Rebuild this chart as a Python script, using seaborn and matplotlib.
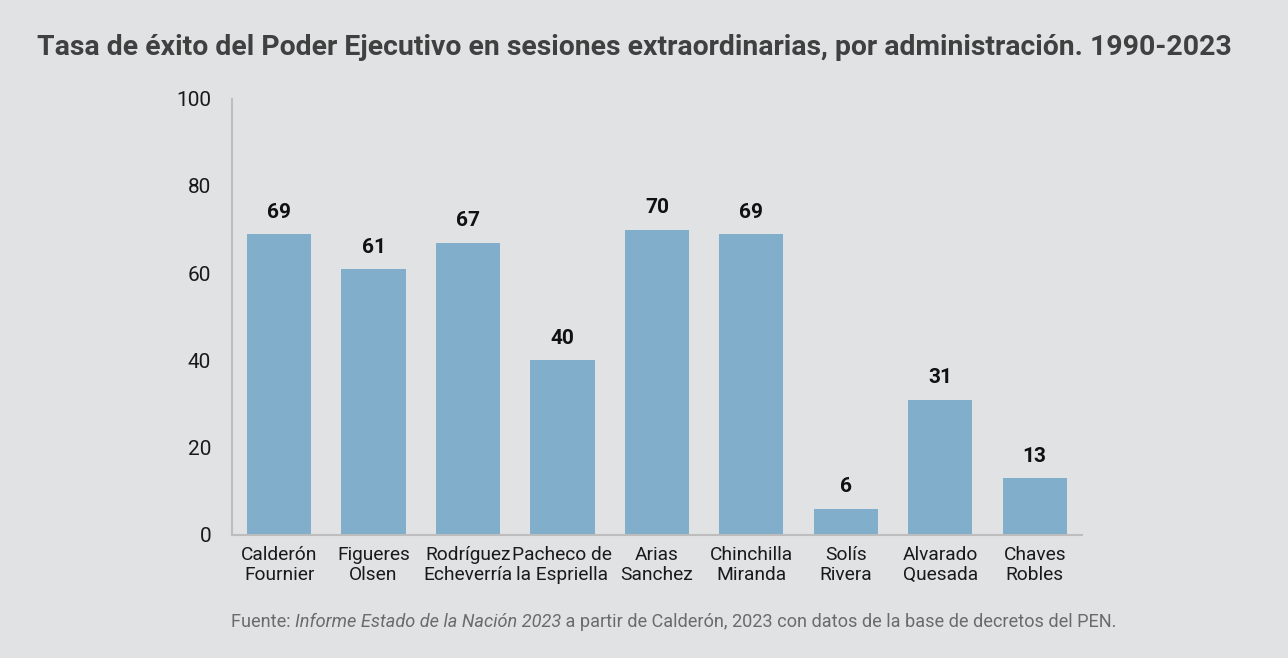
import matplotlib
matplotlib.use("Agg")
import matplotlib.pyplot as plt
import seaborn as sns
import pandas as pd

administraciones = ["Calderón\nFournier", "Figueres\nOlsen", "Rodríguez\nEcheverría",
                    "Pacheco de\nla Espriella", "Arias\nSanchez", "Chinchilla\nMiranda",
                    "Solís\nRivera", "Alvarado\nQuesada", "Chaves\nRobles"]
tasa_exito = [69, 61, 67, 40, 70, 69, 6, 31, 13]
y_ticks = [0, 20, 40, 60, 80, 100]

df = pd.DataFrame({"admin": administraciones, "tasa": tasa_exito})

bg = "#e1e2e4"
sns.set_style("white")
plt.rcParams["font.family"] = ["Roboto", "DejaVu Sans"]

fig = plt.figure(figsize=(12.88, 6.58), dpi=100, facecolor=bg)
ax = fig.add_axes([0.180, 0.187, 0.660, 0.663])
ax.set_facecolor(bg)

sns.barplot(data=df, x="admin", y="tasa", color="#80aecb", saturation=1,
            width=0.68, linewidth=0, edgecolor="none", ax=ax)

for i, v in enumerate(tasa_exito):
    ax.text(i, v + 5, str(v), ha="center", va="center", fontsize=15,
            fontweight="bold", color="#111111")

ax.set_ylim(0, 100)
ax.set_xlim(-0.5, len(administraciones) - 0.5)
ax.set_yticks(y_ticks)
ax.set_yticklabels([str(t) for t in y_ticks], fontsize=15, color="#1a1a1a")
ax.set_xlabel("")
ax.set_ylabel("")

# ticks between categories
ax.set_xticks([i - 0.5 for i in range(len(administraciones) + 1)])
ax.set_xticklabels([])
ax.set_xticks(range(len(administraciones)), minor=True)
ax.set_xticklabels(administraciones, minor=True, fontsize=13.8, color="#1a1a1a",
                   linespacing=1.15)
ax.tick_params(axis="x", which="major", length=7, color="#bdbdbd", width=1.2)
ax.tick_params(axis="x", which="minor", length=0, pad=8)
ax.tick_params(axis="y", length=6, color="#bdbdbd", width=1.2, pad=9)

for s in ["top", "right"]:
    ax.spines[s].set_visible(False)
for s in ["left", "bottom"]:
    ax.spines[s].set_color("#bdbdbd")
    ax.spines[s].set_linewidth(1.5)

fig.text(0.029, 0.928, "Tasa de éxito del Poder Ejecutivo en sesiones extraordinarias, por administración. 1990-2023",
         fontsize=20.4, fontweight="bold", color="#404040", va="center")

src_kw = dict(fontsize=13.1, color="#6b6b6b")
y_src = 0.047
t1 = fig.text(0.179, y_src, "Fuente: ", va="baseline", **src_kw)
t2 = fig.text(0, 0, "Informe Estado de la Nación 2023", style="italic", va="baseline", **src_kw)
t3 = fig.text(0, 0, " a partir de Calderón, 2023 con datos de la base de decretos del PEN.", va="baseline", **src_kw)
fig.canvas.draw()
r = fig.canvas.get_renderer()
inv = fig.transFigure.inverted()
x2 = inv.transform((t1.get_window_extent(r).x1, 0))[0]
t2.set_position((x2, y_src))
fig.canvas.draw()
x3 = inv.transform((t2.get_window_extent(r).x1, 0))[0]
t3.set_position((x3, y_src))

fig.savefig("out.png", dpi=100, facecolor=bg)
